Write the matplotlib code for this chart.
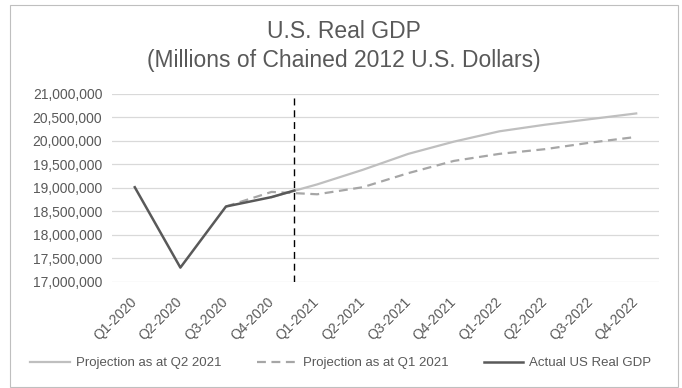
import numpy as np
import matplotlib.pyplot as plt
from matplotlib.patches import Rectangle
from matplotlib.ticker import FuncFormatter

plt.rcParams['font.family'] = ['Liberation Sans', 'DejaVu Sans']

quarters = ['Q1-2020', 'Q2-2020', 'Q3-2020', 'Q4-2020',
            'Q1-2021', 'Q2-2021', 'Q3-2021', 'Q4-2021',
            'Q1-2022', 'Q2-2022', 'Q3-2022', 'Q4-2022']

# projection made in Q2 2021 (starts at Q4-2020)
proj_q2_pos = [3, 4, 5, 6, 7, 8, 9, 10, 11]
proj_q2 = [18_800_000, 19_070_000, 19_380_000, 19_720_000, 19_980_000,
           20_200_000, 20_340_000, 20_460_000, 20_580_000]

# projection made in Q1 2021 (starts at Q3-2020)
proj_q1_pos = [2, 3, 4, 5, 6, 7, 8, 9, 10, 11]
proj_q1 = [18_600_000, 18_910_000, 18_860_000, 19_010_000, 19_310_000,
           19_570_000, 19_720_000, 19_820_000, 19_960_000, 20_080_000]

# actual real GDP, last point sits on the divider
actual_pos = [0, 1, 2, 3, 3.5]
actual = [19_010_000, 17_300_000, 18_600_000, 18_800_000, 18_940_000]

divider_pos = 3.5
y_ticks = [17_000_000, 17_500_000, 18_000_000, 18_500_000,
           19_000_000, 19_500_000, 20_000_000, 20_500_000, 21_000_000]

txt = '#595959'

fig = plt.figure(figsize=(6.82, 3.88), dpi=100)
ax = fig.add_axes([112 / 682, 1 - 281.7 / 388, 547 / 682, 188 / 388])

for y in y_ticks:
    ax.axhline(y, color='#d9d9d9', lw=0.9, zorder=0)

ax.plot(proj_q2_pos, proj_q2, color='#bfbfbf', lw=1.6,
        label='Projection as at Q2 2021', zorder=2)
ax.plot(proj_q1_pos, proj_q1, color='#a6a6a6', lw=1.6, ls=(0, (4, 2.5)),
        label='Projection as at Q1 2021', zorder=3)
ax.plot(actual_pos, actual, color='#595959', lw=1.8,
        label='Actual US Real GDP', zorder=4)
ax.plot([divider_pos, divider_pos], [y_ticks[0], y_ticks[-1]],
        color='black', lw=1.0, ls=(0, (5, 3.5)), zorder=5)

ax.set_xlim(-0.5, len(quarters) - 0.5)
ax.set_ylim(y_ticks[0], y_ticks[-1])
ax.set_yticks(y_ticks)
ax.yaxis.set_major_formatter(FuncFormatter(lambda v, p: f'{v:,.0f}'))
ax.set_xticks(range(len(quarters)))
ax.set_xticklabels(quarters, rotation=45, ha='right', va='center',
                   rotation_mode='anchor')
ax.tick_params(axis='both', length=0, labelsize=10, labelcolor=txt)
ax.tick_params(axis='x', pad=13)
ax.tick_params(axis='y', pad=7)
for s in ax.spines.values():
    s.set_visible(False)

fig.text(0.504, 1 - 46 / 388, 'U.S. Real GDP\n(Millions of Chained 2012 U.S. Dollars)',
         ha='center', va='center', fontsize=16.5, color=txt, linespacing=1.3)

fig.legend(loc='center', bbox_to_anchor=(0.5, 1 - 363 / 388), ncol=3,
           frameon=False, fontsize=9.5, labelcolor=txt, handlelength=3.0,
           columnspacing=2.7, handletextpad=0.45)

fig.patches.append(Rectangle((10 / 682, 1 - 387 / 388), 668 / 682, 382 / 388,
                             transform=fig.transFigure, fill=False,
                             edgecolor='#bfbfbf', lw=0.8))

fig.savefig('out.png', dpi=100)
